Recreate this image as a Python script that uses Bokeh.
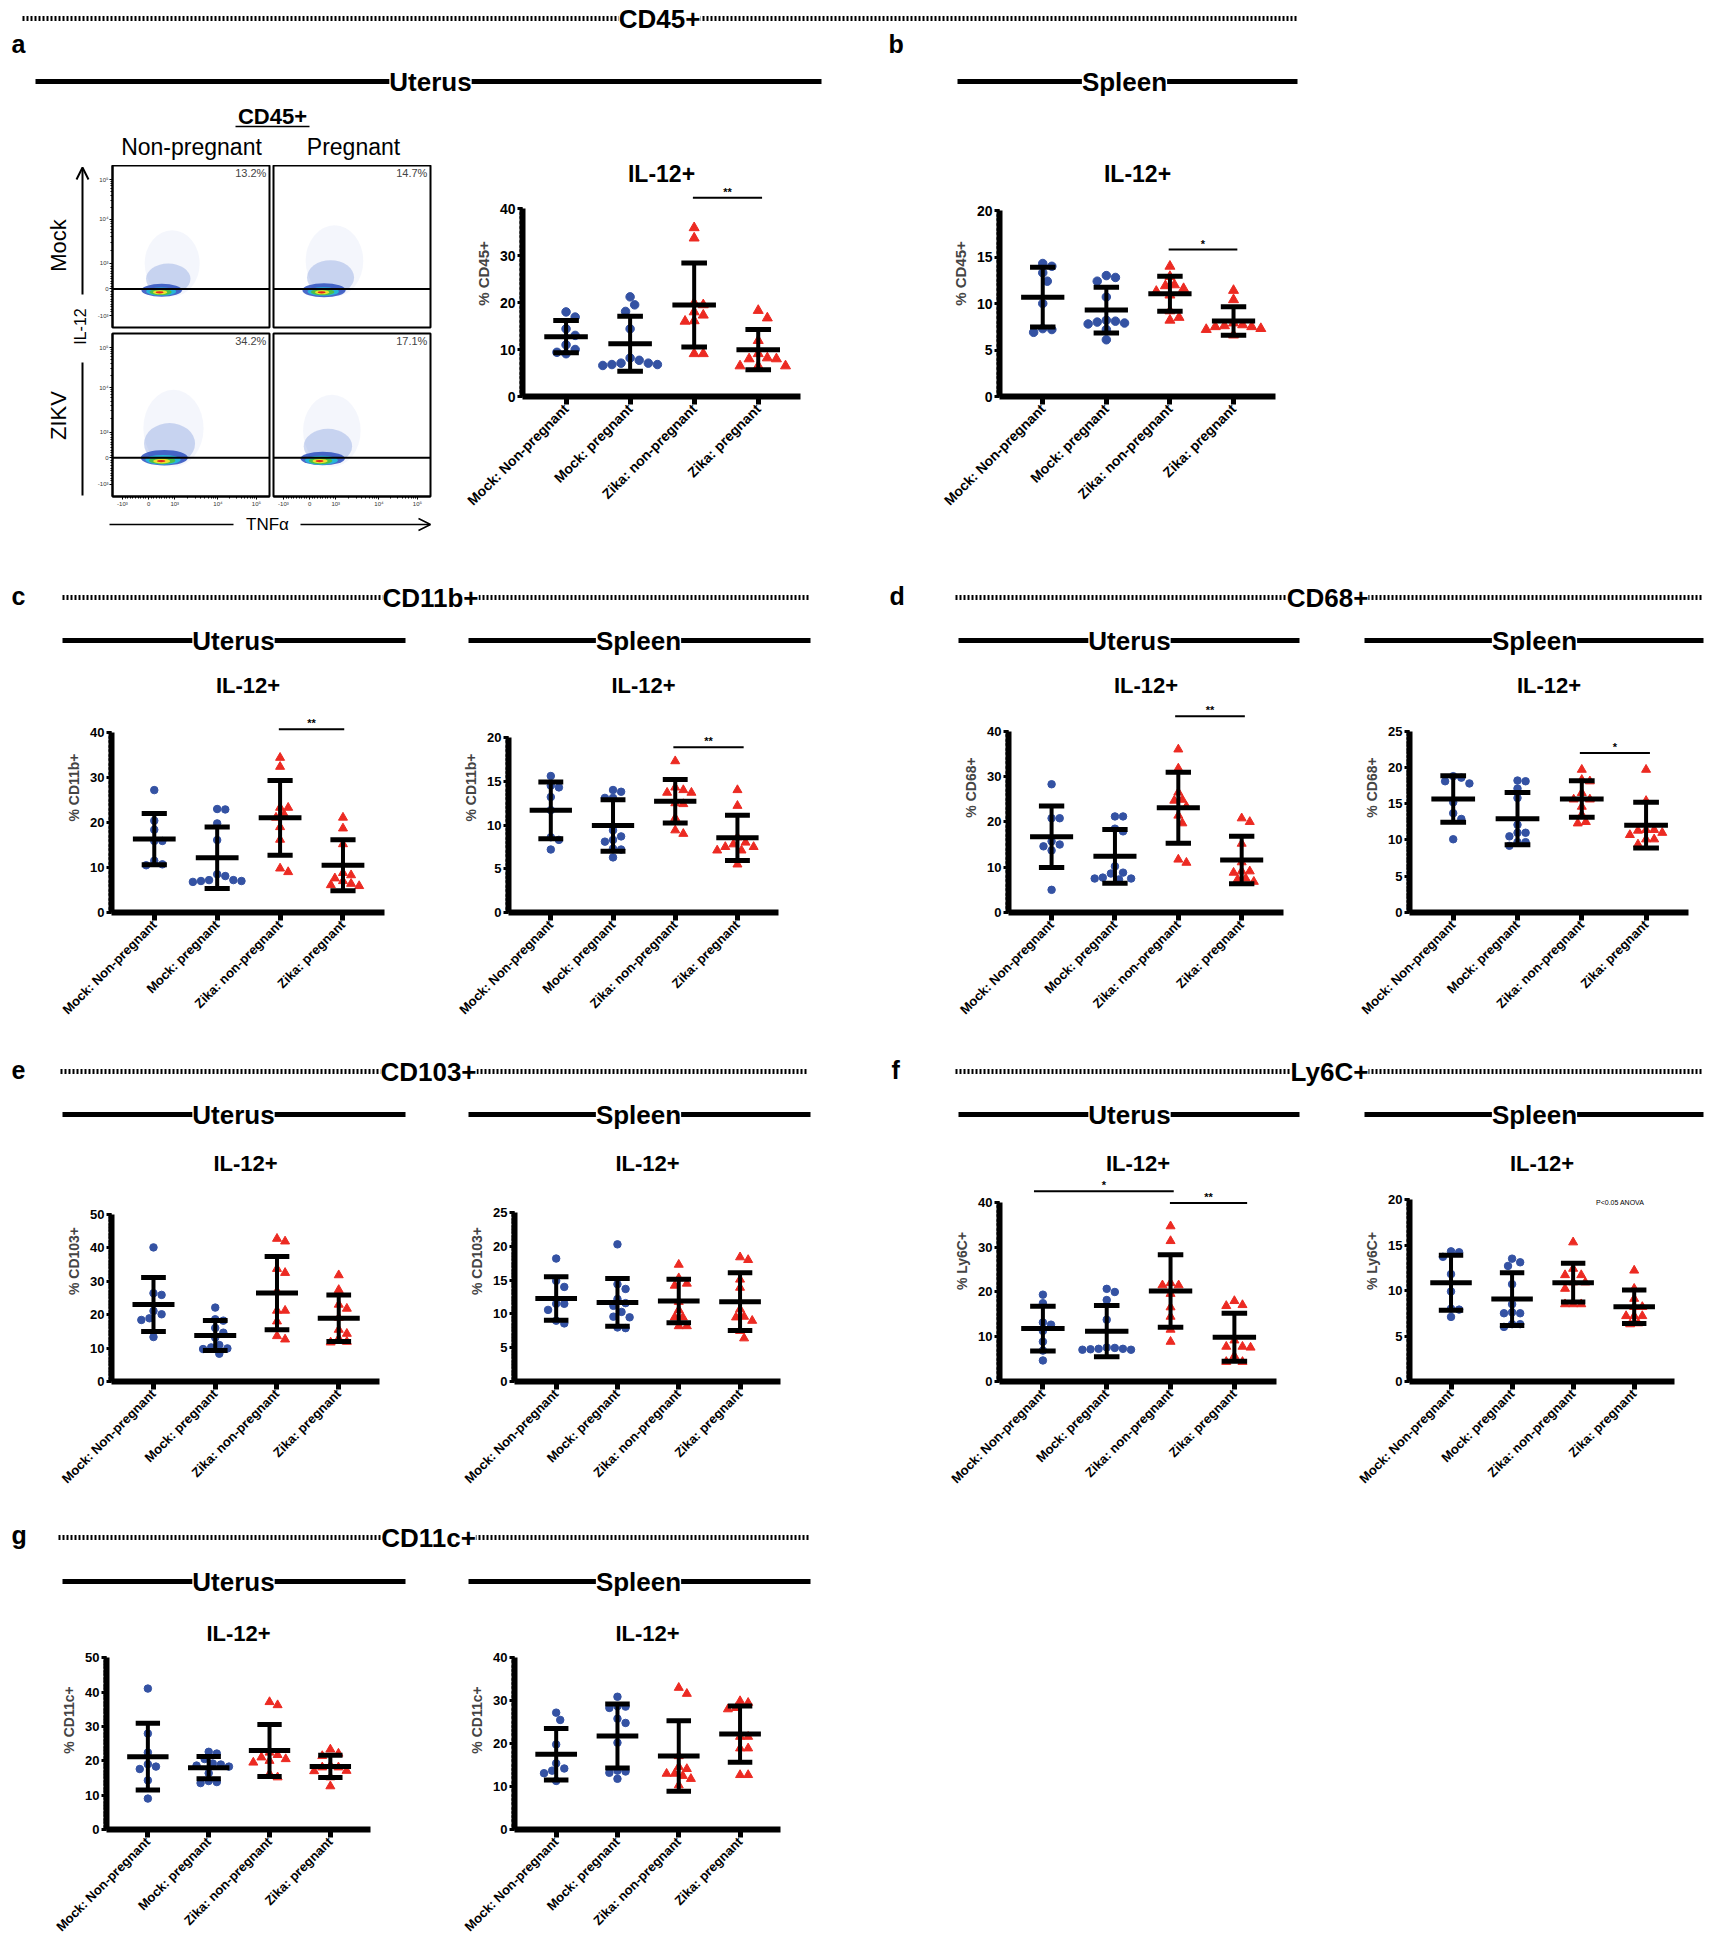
import math
import numpy as np
from bokeh.plotting import figure
from bokeh.layouts import row, column
from bokeh.models import (Range1d, FixedTicker, SingleIntervalTicker, Label, Arrow,
                          OpenHead, Span, Spacer)
from bokeh.core.properties import value
from bokeh.embed import file_html
from bokeh.resources import INLINE

FONT = "Liberation Sans"
BLUE = "#3452a3"
RED = "#ec2a22"

# ------------------------------------------------------------------ data
categories = ["Mock: Non-pregnant", "Mock: pregnant", "Zika: non-pregnant", "Zika: pregnant"]

# a  CD45+ uterus, IL-12+
cd45_uterus_mock_np = [16.9, 18.0, 14.4, 13.0, 10.0, 11.0, 9.1, 9.4]
cd45_uterus_mock_p = [21.2, 19.5, 18.1, 14.4, 8.2, 7.1, 6.8, 6.6, 6.8, 7.1, 7.7]
cd45_uterus_zika_np = [35.9, 33.7, 18.0, 19.5, 19.9, 17.3, 16.1, 16.0, 9.1, 9.1]
cd45_uterus_zika_p = [18.3, 16.7, 11.9, 9.1, 8.0, 8.0, 8.2, 6.5, 6.5, 6.5]
# b  CD45+ spleen
cd45_spleen_mock_np = [14.3, 14.0, 13.3, 12.4, 10.0, 7.3, 7.2, 6.9]
cd45_spleen_mock_p = [12.8, 12.4, 13.0, 10.7, 8.1, 7.8, 8.0, 8.2, 7.2, 6.1, 7.9]
cd45_spleen_zika_np = [14.0, 12.9, 11.9, 11.3, 11.6, 12.0, 10.9, 9.2, 8.2, 8.5]
cd45_spleen_zika_p = [11.4, 10.4, 7.7, 7.5, 7.2, 7.9, 7.3, 7.5, 7.6, 6.6]
# c  CD11b+
cd11b_uterus_mock_np = [27.2, 20.4, 18.4, 15.9, 15.9, 11.5, 10.5, 10.7]
cd11b_uterus_mock_p = [23.0, 22.9, 19.8, 16.1, 8.5, 8.1, 7.2, 6.8, 7.0, 7.2, 7.0]
cd11b_uterus_zika_np = [32.4, 34.4, 23.3, 23.3, 21.8, 21.1, 19.0, 16.2, 9.0, 9.8]
cd11b_uterus_zika_p = [21.1, 18.7, 15.2, 7.6, 8.3, 6.4, 8.8, 7.0, 5.9, 6.1]
cd11b_spleen_mock_np = [15.6, 14.5, 14.3, 13.2, 11.7, 8.6, 8.3, 7.2]
cd11b_spleen_mock_p = [14.0, 13.8, 13.1, 13.1, 9.4, 8.7, 8.3, 8.1, 7.3, 7.2, 6.3]
cd11b_spleen_zika_np = [17.3, 14.3, 13.7, 13.7, 14.0, 12.5, 12.4, 10.8, 9.0, 9.4]
cd11b_spleen_zika_p = [14.0, 12.2, 8.6, 8.0, 7.5, 7.8, 7.5, 7.1, 7.1, 5.5]
# d  CD68+
cd68_uterus_mock_np = [28.3, 20.8, 20.8, 15.7, 15.0, 14.6, 13.7, 5.0]
cd68_uterus_mock_p = [21.2, 21.2, 18.5, 17.9, 10.2, 8.6, 8.8, 7.5, 7.3, 7.5, 7.7]
cd68_uterus_zika_np = [36.0, 31.8, 26.5, 24.9, 24.7, 23.4, 21.4, 19.7, 11.0, 11.7]
cd68_uterus_zika_p = [20.8, 20.0, 15.2, 11.1, 9.1, 9.1, 8.8, 7.5, 6.8, 7.3]
cd68_spleen_mock_np = [18.8, 18.6, 18.1, 17.8, 15.2, 13.7, 12.9, 10.1]
cd68_spleen_mock_p = [18.2, 18.1, 17.1, 15.8, 12.1, 10.5, 11.0, 11.0, 9.7, 9.7, 9.2]
cd68_spleen_zika_np = [19.7, 18.1, 18.3, 16.5, 15.6, 15.6, 14.6, 13.5, 12.3, 12.5]
cd68_spleen_zika_p = [19.7, 15.4, 11.4, 11.3, 11.4, 10.7, 11.0, 10.1, 10.1, 9.4]
# e  CD103+
cd103_uterus_mock_np = [40.1, 25.9, 26.4, 20.1, 21.1, 18.9, 18.4, 13.3]
cd103_uterus_mock_p = [22.1, 18.6, 18.2, 16.0, 14.6, 13.1, 10.9, 10.2, 9.7, 9.9, 8.3]
cd103_uterus_zika_np = [42.7, 41.9, 32.5, 33.7, 27.0, 21.2, 21.2, 18.0, 12.6, 13.6]
cd103_uterus_zika_p = [31.8, 27.4, 23.0, 21.8, 19.1, 15.5, 12.8, 14.3, 11.7, 11.9]
cd103_spleen_mock_np = [18.2, 14.9, 14.0, 11.5, 11.5, 10.6, 8.6, 9.0]
cd103_spleen_mock_p = [20.3, 14.4, 13.7, 12.2, 11.2, 11.6, 9.6, 10.3, 9.5, 7.9, 8.0]
cd103_spleen_zika_np = [17.3, 15.3, 14.2, 14.5, 11.8, 10.6, 9.5, 9.5, 8.2, 8.2]
cd103_spleen_zika_p = [18.0, 18.4, 15.1, 13.9, 10.7, 9.5, 9.6, 9.0, 7.5, 6.4]
# f  Ly6C+
ly6c_uterus_mock_np = [19.4, 17.5, 13.2, 12.7, 11.3, 8.9, 6.9, 4.7]
ly6c_uterus_mock_p = [20.7, 20.0, 18.2, 13.8, 7.6, 7.3, 7.1, 7.1, 7.5, 7.3, 7.2]
ly6c_uterus_zika_np = [34.7, 31.4, 21.5, 21.5, 22.0, 19.6, 14.5, 16.6, 11.6, 8.9]
ly6c_uterus_zika_p = [18.0, 17.1, 16.9, 9.2, 7.8, 7.8, 7.6, 5.7, 4.4, 4.4]
ly6c_spleen_mock_np = [14.3, 14.2, 13.7, 11.8, 9.9, 8.0, 7.1, 7.9]
ly6c_spleen_mock_p = [13.1, 13.5, 12.7, 10.7, 8.5, 7.6, 7.5, 7.5, 6.3, 6.3, 6.0]
ly6c_spleen_zika_np = [15.3, 12.4, 11.7, 11.7, 10.9, 10.9, 10.2, 8.5, 8.5, 8.5]
ly6c_spleen_zika_p = [12.2, 10.2, 8.2, 8.2, 7.2, 7.2, 7.2, 6.3, 6.4, 9.1]
# g  CD11c+
cd11c_uterus_mock_np = [41.0, 27.9, 22.4, 19.0, 18.3, 17.6, 14.3, 9.0]
cd11c_uterus_mock_p = [22.6, 22.1, 20.5, 19.2, 18.3, 18.9, 18.6, 16.4, 14.1, 13.5, 13.8]
cd11c_uterus_zika_np = [36.2, 37.1, 22.4, 21.7, 21.0, 20.5, 20.0, 19.5, 15.2, 16.2]
cd11c_uterus_zika_p = [23.3, 22.1, 21.4, 18.1, 17.0, 18.6, 17.1, 18.1, 15.2, 12.6]
cd11c_spleen_mock_np = [27.2, 25.5, 19.8, 15.4, 14.2, 13.7, 13.1, 11.3]
cd11c_spleen_mock_p = [30.9, 28.3, 28.7, 28.6, 25.8, 24.8, 20.2, 13.5, 13.2, 13.7, 11.8]
cd11c_spleen_zika_np = [33.0, 31.6, 17.1, 14.6, 14.1, 13.0, 13.0, 12.5, 11.8, 10.3]
cd11c_spleen_zika_p = [29.9, 29.5, 28.3, 28.0, 21.6, 21.6, 18.9, 18.9, 12.7, 12.7]

# significance bars: (from category, to category, height, label)
sig_cd45_uterus = [(2.98, 4.06, 42.3, "**")]
sig_cd45_spleen = [(2.98, 4.06, 15.8, "*")]
sig_cd11b_uterus = [(2.98, 4.02, 40.7, "**")]
sig_cd11b_spleen = [(2.97, 4.10, 18.9, "**")]
sig_cd68_uterus = [(2.95, 4.05, 43.3, "**")]
sig_cd68_spleen = [(2.97, 4.06, 22.0, "*")]
sig_ly6c_uterus = [(0.86, 3.05, 42.5, "*"), (2.99, 4.20, 39.9, "**")]
note_ly6c_spleen = [(3.77, 19.7, "P<0.05 ANOVA")]

# flow cytometry panel (a): display-scale ticks and density layers
flow_tick_labels = ["-10³", "0", "10³", "10⁴", "10⁵"]
flow_x_ticks = [-1.0, 0.0, 1.0, 2.65, 4.12]
flow_y_ticks = [-1.04, 0.0, 1.0, 2.73, 4.29]
flow_percent = ["13.2%", "14.7%", "34.2%", "17.1%"]
flow_layer_colors = ["#b4c2ec", "#6a88d8", "#2d50c0", "#27b4d8", "#4cbf48", "#ebe12e", "#e32a1c"]
flow_layer_alpha = [0.14, 0.32, 0.85, 1, 1, 1, 1]
mock_np_blob_x = [0.90, 0.75, 0.50, 0.48, 0.46, 0.44, 0.42]
mock_np_blob_y = [1.00, 0.40, -0.05, -0.10, -0.12, -0.13, -0.13]
mock_np_blob_w = [2.1, 1.7, 1.55, 1.15, 0.85, 0.55, 0.3]
mock_np_blob_h = [2.6, 1.2, 0.5, 0.32, 0.24, 0.16, 0.09]
mock_p_blob_x = [0.95, 0.80, 0.55, 0.52, 0.50, 0.48, 0.46]
mock_p_blob_y = [1.10, 0.45, -0.05, -0.10, -0.12, -0.13, -0.13]
mock_p_blob_w = [2.2, 1.8, 1.65, 1.2, 0.9, 0.55, 0.3]
mock_p_blob_h = [2.8, 1.35, 0.55, 0.34, 0.25, 0.16, 0.09]
zikv_np_blob_x = [0.95, 0.80, 0.60, 0.55, 0.52, 0.50, 0.48]
zikv_np_blob_y = [1.15, 0.55, 0.00, -0.08, -0.11, -0.13, -0.13]
zikv_np_blob_w = [2.3, 1.95, 1.8, 1.35, 1.0, 0.65, 0.32]
zikv_np_blob_h = [3.0, 1.6, 0.6, 0.38, 0.28, 0.18, 0.09]
zikv_p_blob_x = [0.85, 0.70, 0.50, 0.45, 0.42, 0.40, 0.38]
zikv_p_blob_y = [1.05, 0.45, -0.03, -0.10, -0.12, -0.13, -0.13]
zikv_p_blob_w = [2.2, 1.85, 1.7, 1.25, 0.9, 0.58, 0.3]
zikv_p_blob_h = [2.8, 1.35, 0.52, 0.36, 0.26, 0.17, 0.09]


# ------------------------------------------------------------------ helpers
def no_grid(p):
    p.xgrid.grid_line_color = None
    p.ygrid.grid_line_color = None


def add_label(p, x, y, txt, size, bold=False, align="center", angle=0.0, bg=None):
    p.add_layout(Label(x=x, y=y, text=txt, text_font=FONT, text_font_size=f"{size}px",
                       text_font_style="bold" if bold else "normal", text_align=align,
                       text_baseline="middle", angle=angle, text_color="black",
                       background_fill_color=bg))


def decor_fig(left, top, w, h):
    p = figure(width=w, height=h, x_range=Range1d(left, left + w), y_range=Range1d(top + h, top),
               output_backend="svg", toolbar_location=None, x_axis_location=None,
               y_axis_location=None, min_border=0)
    p.outline_line_color = None
    no_grid(p)
    return p


def header(top, h, dotted, letters, solid):
    p = decor_fig(8, top, 1696, h)
    for x0, x1, y, txt, xc in dotted:
        p.line([x0, x1], [y, y], line_color="black", line_width=5, line_dash="2 2")
        add_label(p, xc, y, txt, 26, bold=True, bg="white")
    for txt, x, y in letters:
        add_label(p, x, y, txt, 25, bold=True, align="left")
    for x0, x1, y, txt, xc in solid:
        p.line([x0, x1], [y, y], line_color="black", line_width=5)
        add_label(p, xc, y, txt, 26, bold=True, bg="white")
    return p


def swarm_offsets(vals, ppu_y, ppx, d):
    order = sorted(range(len(vals)), key=lambda i: -vals[i])
    cands = [0.0]
    for k in range(1, 20):
        cands += [k * d / 2.0, -k * d / 2.0]
    placed = []
    offs = [0.0] * len(vals)
    for i in order:
        y = vals[i] * ppu_y
        for c in cands:
            if all((c - px) ** 2 + (y - py) ** 2 >= (0.97 * d) ** 2 for px, py in placed):
                placed.append((c, y))
                offs[i] = c / ppx
                break
    return offs


def make_scatter(fig_left, fig_w, row_top, row_h, frame_l, frame_r, frame_t,
                 y0_px, ymax, ymax_px, step, groups, ylabel, title_px,
                 sigs=(), notes=(), big=False):
    ppu = (y0_px - ymax_px) / ymax
    y_end = (y0_px - frame_t) / ppu
    xs, xe = 0.32, 4.66
    p = figure(width=fig_w, height=row_h, x_range=Range1d(xs, xe), y_range=Range1d(0, y_end),
               output_backend="svg", toolbar_location=None,
               min_border_left=frame_l - fig_left, min_border_right=fig_left + fig_w - frame_r,
               min_border_top=frame_t - row_top, min_border_bottom=row_top + row_h - y0_px)
    p.outline_line_color = None
    no_grid(p)
    ppx = (frame_r - frame_l) / (xe - xs)
    msize = 8.5 if big else 7.5
    tsize = 10 if big else 9
    for i, vals in enumerate(groups):
        offs = swarm_offsets(vals, ppu, ppx, msize + 0.6)
        xv = [i + 1 + o for o in offs]
        if i < 2:
            p.scatter(xv, vals, marker="circle", size=msize, fill_color=BLUE, line_color=BLUE)
        else:
            p.scatter(xv, vals, marker="triangle", size=tsize, fill_color=RED, line_color=RED)
    cx = [1, 2, 3, 4]
    means = [float(np.mean(v)) for v in groups]
    sds = [float(np.std(v, ddof=1)) for v in groups]
    lo = [m - s for m, s in zip(means, sds)]
    hi = [m + s for m, s in zip(means, sds)]
    p.segment(cx, lo, cx, hi, line_color="black", line_width=4)
    p.segment([c - 0.2 for c in cx], lo, [c + 0.2 for c in cx], lo, line_color="black", line_width=5)
    p.segment([c - 0.2 for c in cx], hi, [c + 0.2 for c in cx], hi, line_color="black", line_width=5)
    p.segment([c - 0.34 for c in cx], means, [c + 0.34 for c in cx], means,
              line_color="black", line_width=5)
    for x0, x1, y, lab in sigs:
        p.segment([x0], [y], [x1], [y], line_color="black", line_width=2)
        p.text([(x0 + x1) / 2], [y + 6.0 / ppu], text=[lab], text_font=value(FONT),
               text_font_style="bold", text_font_size="11px", text_align="center",
               text_baseline="middle")
    for x, y, lab in notes:
        p.text([x], [y], text=[lab], text_font=value(FONT), text_font_size="7px",
               text_align="center", text_baseline="middle")
    # title
    p.text([(xs + xe) / 2], [(y0_px - title_px) / ppu], text=["IL-12+"], text_font=value(FONT),
           text_font_style="bold", text_font_size="23px" if big else "22px",
           text_align="center", text_baseline="middle")
    tick_font = "14px" if big else "13px"
    yax = p.yaxis[0]
    yax.ticker = SingleIntervalTicker(interval=step, num_minor_ticks=10)
    yax.bounds = (0, ymax)
    yax.axis_line_width = 6
    yax.major_tick_line_width = 3
    yax.major_tick_out = 5
    yax.major_tick_in = 0
    yax.minor_tick_line_width = 2.5
    yax.minor_tick_out = 3
    yax.minor_tick_in = 0
    yax.major_label_text_font = FONT
    yax.major_label_text_font_style = "bold"
    yax.major_label_text_font_size = tick_font
    yax.major_label_text_color = "black"
    yax.major_label_standoff = 2
    yax.axis_label = ylabel
    yax.axis_label_text_font = FONT
    yax.axis_label_text_font_style = "bold"
    yax.axis_label_text_font_size = "15px" if big else "14px"
    yax.axis_label_standoff = 5
    xax = p.xaxis[0]
    xax.ticker = FixedTicker(ticks=cx)
    xax.major_label_overrides = {i + 1: c for i, c in enumerate(categories)}
    xax.major_label_orientation = math.pi / 4
    xax.axis_line_width = 6
    xax.major_tick_line_width = 5
    xax.major_tick_out = 8
    xax.major_tick_in = 0
    xax.major_label_text_font = FONT
    xax.major_label_text_font_style = "bold"
    xax.major_label_text_font_size = "14px" if big else "13px"
    xax.major_label_text_color = "black"
    xax.major_label_standoff = 2
    return p


def flow_minor(ticks):
    out = []
    for k in range(1, 10):
        out += [0.1 * k, -0.1 * k]
    for a, b in [(ticks[2], ticks[3]), (ticks[3], ticks[4])]:
        for m in range(2, 10):
            out.append(a + (b - a) * math.log10(m))
    return out


def flow_panel(w, h, bl, br, bt, bb, bx, by, bw, bhh, pct, left_axis, bottom_axis):
    p = figure(width=w, height=h, x_range=Range1d(-1.38, 4.62), y_range=Range1d(-1.51, 4.84),
               output_backend="svg", toolbar_location=None,
               x_axis_location="below" if bottom_axis else None,
               y_axis_location="left" if left_axis else None,
               min_border_left=bl, min_border_right=br, min_border_top=bt, min_border_bottom=bb)
    p.outline_line_color = "black"
    p.outline_line_width = 2
    no_grid(p)
    p.ellipse(x=bx, y=by, width=bw, height=bhh, fill_color=flow_layer_colors,
              fill_alpha=flow_layer_alpha, line_color=None)
    p.add_layout(Span(location=0, dimension="width", line_color="black", line_width=2))
    p.add_layout(Label(x=4.5, y=4.55, text=pct, text_align="right", text_baseline="middle",
                       text_font=FONT, text_font_size="11px"))
    axes = []
    if left_axis:
        ax = p.yaxis[0]
        ax.ticker = FixedTicker(ticks=flow_y_ticks, minor_ticks=flow_minor(flow_y_ticks))
        ax.major_label_overrides = dict(zip(flow_y_ticks, flow_tick_labels))
        axes.append(ax)
    if bottom_axis:
        ax = p.xaxis[0]
        ax.ticker = FixedTicker(ticks=flow_x_ticks, minor_ticks=flow_minor(flow_x_ticks))
        ax.major_label_overrides = dict(zip(flow_x_ticks, flow_tick_labels))
        axes.append(ax)
    for ax in axes:
        ax.axis_line_width = 2
        ax.major_tick_out = 3
        ax.major_tick_in = 0
        ax.minor_tick_out = 2
        ax.minor_tick_in = 0
        ax.major_label_text_font = FONT
        ax.major_label_text_font_size = "6px"
        ax.major_label_text_color = "#333333"
        ax.major_label_standoff = 1
    return p


# ------------------------------------------------------------------ band 1 (a, b)
head1 = header(0, 100,
               [(22, 1296, 18, "CD45+", 659)],
               [("a", 11, 43), ("b", 888, 43)],
               [(35, 821, 81, "Uterus", 430), (957, 1297, 81, "Spleen", 1124)])

flow_top = decor_fig(8, 100, 432, 65)
add_label(flow_top, 272, 116, "CD45+", 22, bold=True)
flow_top.line([235, 309], [126, 126], line_color="black", line_width=1.5)
add_label(flow_top, 191, 146, "Non-pregnant", 23)
add_label(flow_top, 353, 146, "Pregnant", 23)

left_decor = decor_fig(8, 165, 82, 350)
add_label(left_decor, 58, 245, "Mock", 22, angle=math.pi / 2)
add_label(left_decor, 58, 415, "ZIKV", 22, angle=math.pi / 2)
add_label(left_decor, 80, 326, "IL-12", 16, angle=math.pi / 2)
left_decor.add_layout(Arrow(end=OpenHead(size=12, line_width=2), x_start=82, y_start=294,
                            x_end=82, y_end=167, line_width=2))
left_decor.line([82, 82], [362, 495], line_color="black", line_width=2)

flow_tl = flow_panel(181, 165, 22, 2, 0, 3, mock_np_blob_x, mock_np_blob_y, mock_np_blob_w,
                     mock_np_blob_h, flow_percent[0], True, False)
flow_tr = flow_panel(162, 165, 2, 3, 0, 3, mock_p_blob_x, mock_p_blob_y, mock_p_blob_w,
                     mock_p_blob_h, flow_percent[1], False, False)
flow_bl = flow_panel(181, 185, 22, 2, 3, 19, zikv_np_blob_x, zikv_np_blob_y, zikv_np_blob_w,
                     zikv_np_blob_h, flow_percent[2], True, True)
flow_br = flow_panel(162, 185, 2, 3, 3, 19, zikv_p_blob_x, zikv_p_blob_y, zikv_p_blob_w,
                     zikv_p_blob_h, flow_percent[3], False, True)

flow_bottom = decor_fig(8, 515, 432, 55)
flow_bottom.line([109, 233], [524, 524], line_color="black", line_width=1.5)
add_label(flow_bottom, 267, 524, "TNFα", 17)
flow_bottom.add_layout(Arrow(end=OpenHead(size=12, line_width=1.5), x_start=300, y_start=524,
                             x_end=430, y_end=524, line_width=1.5))

flow_block = column(flow_top,
                    row(left_decor, column(row(flow_tl, flow_tr), row(flow_bl, flow_br)),
                        Spacer(width=7, height=350)),
                    flow_bottom)

plot_a = make_scatter(440, 440, 100, 470, 522, 800, 150, 396, 40, 208, 10,
                      [cd45_uterus_mock_np, cd45_uterus_mock_p, cd45_uterus_zika_np, cd45_uterus_zika_p],
                      "% CD45+", 173, sigs=sig_cd45_uterus, big=True)
plot_b = make_scatter(880, 440, 100, 470, 999, 1275, 150, 396, 20, 210, 5,
                      [cd45_spleen_mock_np, cd45_spleen_mock_p, cd45_spleen_zika_np, cd45_spleen_zika_p],
                      "% CD45+", 173, sigs=sig_cd45_spleen, big=True)
band1 = column(head1, row(flow_block, plot_a, plot_b))

# ------------------------------------------------------------------ band 2 (c, d)
head2 = header(570, 90,
               [(62, 810, 597, "CD11b+", 430), (955, 1703, 597, "CD68+", 1327)],
               [("c", 11, 595), ("d", 889, 595)],
               [(62, 405, 640, "Uterus", 233), (468, 810, 640, "Spleen", 638),
                (958, 1299, 640, "Uterus", 1129), (1364, 1703, 640, "Spleen", 1534)])
plot_c1 = make_scatter(8, 432, 660, 385, 111, 384, 662, 912, 40, 732, 10,
                       [cd11b_uterus_mock_np, cd11b_uterus_mock_p, cd11b_uterus_zika_np, cd11b_uterus_zika_p],
                       "% CD11b+", 685, sigs=sig_cd11b_uterus)
plot_c2 = make_scatter(440, 440, 660, 385, 508, 778, 662, 912, 20, 737, 5,
                       [cd11b_spleen_mock_np, cd11b_spleen_mock_p, cd11b_spleen_zika_np, cd11b_spleen_zika_p],
                       "% CD11b+", 685, sigs=sig_cd11b_spleen)
plot_d1 = make_scatter(880, 440, 660, 385, 1008, 1283, 662, 913, 40, 731, 10,
                       [cd68_uterus_mock_np, cd68_uterus_mock_p, cd68_uterus_zika_np, cd68_uterus_zika_p],
                       "% CD68+", 685, sigs=sig_cd68_uterus)
plot_d2 = make_scatter(1320, 384, 660, 385, 1409, 1688, 662, 913, 25, 731, 5,
                       [cd68_spleen_mock_np, cd68_spleen_mock_p, cd68_spleen_zika_np, cd68_spleen_zika_p],
                       "% CD68+", 685, sigs=sig_cd68_spleen)
band2 = column(head2, row(plot_c1, plot_c2, plot_d1, plot_d2))

# ------------------------------------------------------------------ band 3 (e, f)
head3 = header(1045, 90,
               [(60, 808, 1071, "CD103+", 428), (955, 1703, 1071, "Ly6C+", 1329)],
               [("e", 11, 1069), ("f", 891, 1069)],
               [(62, 405, 1114, "Uterus", 233), (468, 810, 1114, "Spleen", 638),
                (958, 1299, 1114, "Uterus", 1129), (1364, 1703, 1114, "Spleen", 1534)])
plot_e1 = make_scatter(8, 432, 1135, 380, 111, 379, 1140, 1385, 50, 1215, 10,
                       [cd103_uterus_mock_np, cd103_uterus_mock_p, cd103_uterus_zika_np, cd103_uterus_zika_p],
                       "% CD103+", 1163)
plot_e2 = make_scatter(440, 440, 1135, 380, 514, 780, 1140, 1384, 25, 1213, 5,
                       [cd103_spleen_mock_np, cd103_spleen_mock_p, cd103_spleen_zika_np, cd103_spleen_zika_p],
                       "% CD103+", 1163)
plot_f1 = make_scatter(880, 440, 1135, 380, 999, 1276, 1140, 1385, 40, 1203, 10,
                       [ly6c_uterus_mock_np, ly6c_uterus_mock_p, ly6c_uterus_zika_np, ly6c_uterus_zika_p],
                       "% Ly6C+", 1163, sigs=sig_ly6c_uterus)
plot_f2 = make_scatter(1320, 384, 1135, 380, 1409, 1674, 1140, 1381, 20, 1199, 5,
                       [ly6c_spleen_mock_np, ly6c_spleen_mock_p, ly6c_spleen_zika_np, ly6c_spleen_zika_p],
                       "% Ly6C+", 1163, notes=note_ly6c_spleen)
band3 = column(head3, row(plot_e1, plot_e2, plot_f1, plot_f2))

# ------------------------------------------------------------------ band 4 (g)
head4 = header(1515, 90,
               [(58, 810, 1537, "CD11c+", 428)],
               [("g", 11, 1534)],
               [(62, 405, 1581, "Uterus", 233), (468, 810, 1581, "Spleen", 638)])
plot_g1 = make_scatter(8, 432, 1605, 337, 106, 370, 1610, 1833, 50, 1658, 10,
                       [cd11c_uterus_mock_np, cd11c_uterus_mock_p, cd11c_uterus_zika_np, cd11c_uterus_zika_p],
                       "% CD11c+", 1633)
plot_g2 = make_scatter(440, 440, 1605, 337, 514, 780, 1610, 1833, 40, 1658, 10,
                       [cd11c_spleen_mock_np, cd11c_spleen_mock_p, cd11c_spleen_zika_np, cd11c_spleen_zika_p],
                       "% CD11c+", 1633)
band4 = column(head4, row(plot_g1, plot_g2))

content = column(band1, band2, band3, band4)
page = row(Spacer(width=8, height=10), content)
open("out.html", "w").write(file_html(page, INLINE))
